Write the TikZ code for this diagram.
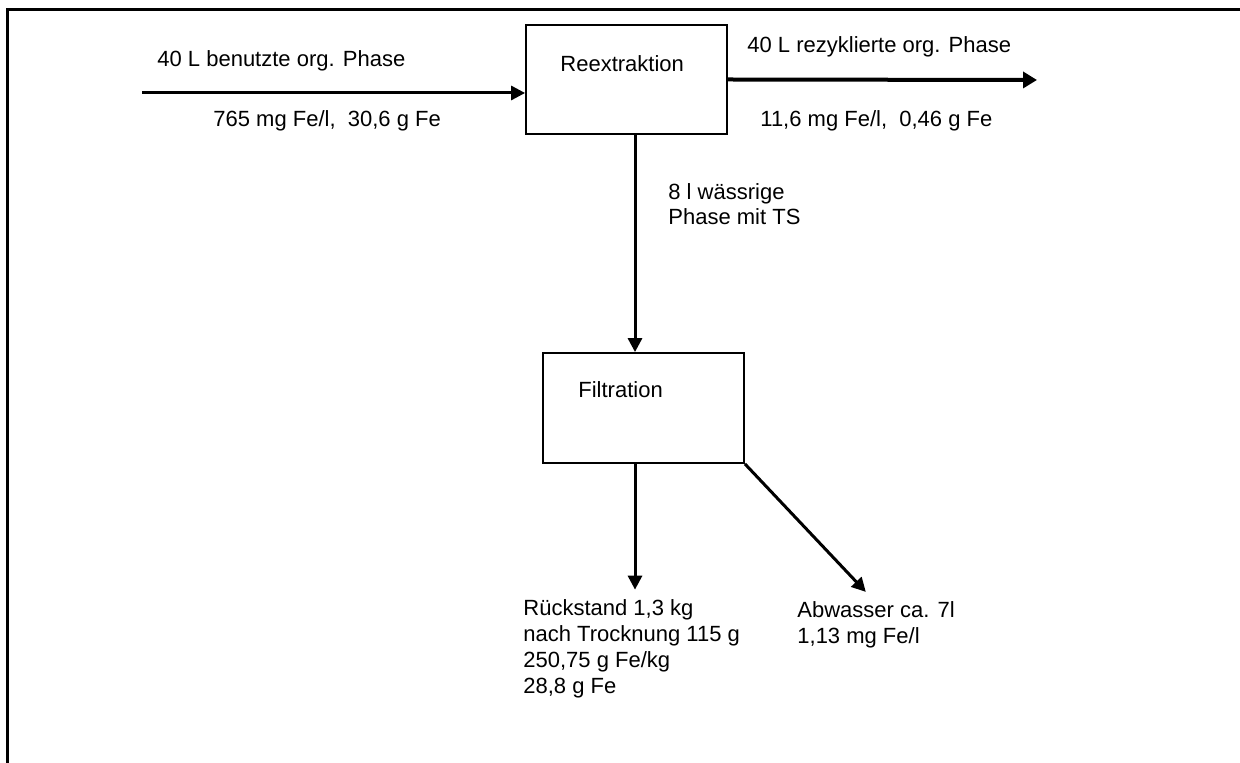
\documentclass[tikz,border=0pt]{standalone}
\usepackage{fontspec}
\setmainfont{Liberation Sans}
\usetikzlibrary{arrows.meta,calc,positioning}

\begin{document}
\begin{tikzpicture}[
  x=0.5pt, y=-0.5pt,
  font=\fontsize{11}{13}\selectfont,
  frame/.style={line width=1.5pt, draw=black},
  procbox/.style={draw=black, line width=0.9pt, fill=white, inner sep=0pt},
  lbl/.style={inner sep=0pt, anchor=base west, align=left},
  flow/.style={-{Triangle[length=7pt,width=7pt]}, line width=1.5pt},
  flowout/.style={-{Triangle[length=7pt,width=8pt]}, line width=2pt}
]
\useasboundingbox (0,0) rectangle (1240,763);
\draw[frame] (7,770) -- (7,10) -- (1245,10);

\node[procbox, minimum width=100.5pt, minimum height=54.5pt] (reex) at (626.5,79.5) {};
\node[procbox, minimum width=100.5pt, minimum height=55pt] (filt) at (643.5,408) {};
\node[lbl] (reexlbl) at (560,72) {Reextraktion};
\node[lbl] (filtlbl) at (578,398) {Filtration};

\node[lbl] (inlbl) at (157,67) {40 L benutzte org. Phase};
\node[lbl] (infe) at (213,127) {765 mg Fe/l,\ \ 30,6 g Fe};
\node[lbl] (outlbl) at (747,53) {40 L rezyklierte org. Phase};
\node[lbl] (outfe) at (760,127) {11,6 mg Fe/l,\ \ 0,46 g Fe};
% base anchor of a multi-line node sits on its last line
\node[lbl, font=\fontsize{11}{12.5}\selectfont] (aqlbl) at (668,225) {8 l wässrige\\Phase mit TS};

\node[lbl] (rst) at (523,693) {Rückstand 1,3 kg\\nach Trocknung 115 g\\250,75 g Fe/kg\\28,8 g Fe};
\node[lbl] (abw) at (797,643) {Abwasser ca. 7l\\1,13 mg Fe/l};

\coordinate (in) at (142,93);
\coordinate (out) at (1037,80);
\coordinate (axis) at (635,0);

\draw[flow] (in) -- (in -| reex.west);
\draw[flowout] (reex.east) -- (out);
\draw[flow] (reex.south -| axis) -- (filt.north -| axis);
\draw[flow, shorten >=4.5pt] (filt.south -| axis) -- (rst.north -| axis);
\draw[flow, shorten >=6pt] (filt.south east) -- ($(abw.north)+(-2,0)$);
\end{tikzpicture}
\end{document}
